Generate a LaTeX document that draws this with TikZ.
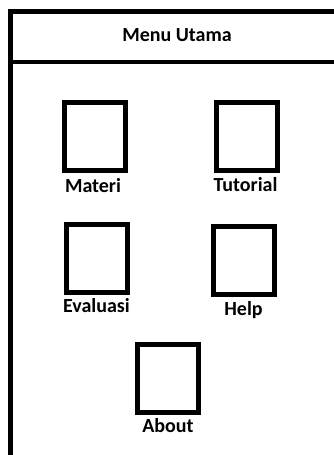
\documentclass[tikz,border=0pt]{standalone}
\usepackage{fontspec}
\setmainfont{Carlito}
\usetikzlibrary{positioning}

\begin{document}
\begin{tikzpicture}[x=1pt, y=-1pt,
    menubox/.style={draw, line width=5pt, minimum width=61pt, minimum height=68pt, inner sep=0pt},
    lbl/.style={font=\bfseries\fontsize{20}{22}\selectfont, inner sep=0pt},
]
\useasboundingbox (0,0) rectangle (334,455);
\clip (0,0) rectangle (334,455);

% Window frame and header
\draw[line width=5pt] (345,11.5) -- (10.5,11.5) -- (10.5,470);
\draw[line width=4pt] (10.5,62) -- (345,62);
\node[lbl] (header) at (177,35) {Menu Utama};

% Menu buttons
\node[menubox] (materi) at (95,136.5) {};
\node[menubox] (tutorial) at (246.5,136.5) {};
\node[menubox] (evaluasi) at (96.5,258.5) {};
\node[menubox] (help) at (243.5,260) {};
\node[menubox] (about) at (168,378.5) {};

% Button labels
\node[lbl, below=5pt of materi, xshift=-2pt] (materilbl) {Materi};
\node[lbl, below=4pt of tutorial, xshift=-1pt] (tutoriallbl) {Tutorial};
\node[lbl, below=3pt of evaluasi] (evaluasilbl) {Evaluasi};
\node[lbl, below=5pt of help] (helplbl) {Help};
\node[lbl, below=3pt of about] (aboutlbl) {About};
\end{tikzpicture}
\end{document}
